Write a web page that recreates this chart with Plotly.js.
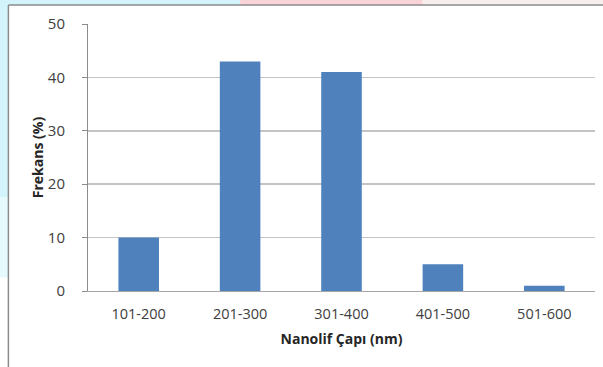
<!DOCTYPE html>
<html>
<head>
<meta charset="utf-8">
<script src="https://cdn.plot.ly/plotly-3.0.1.min.js"></script>
<style>html,body{margin:0;padding:0;background:#fff;}#chart{width:603px;height:367px;}</style>
</head>
<body>
<div id="chart"></div>
<script>
const categories = ["101-200", "201-300", "301-400", "401-500", "501-600"];
const frequencies = [10, 43, 41, 5, 1];
const yTickValues = [0, 10, 20, 30, 40, 50];

const font = "Open Sans, Liberation Sans, sans-serif";
const shapes = [
  {type:"rect", xref:"paper", yref:"paper", x0:-0.18, x1:-0.158, y0:0.35, y1:1.1, fillcolor:"#d3f4fb", line:{width:0}, layer:"below"},
  {type:"rect", xref:"paper", yref:"paper", x0:-0.18, x1:-0.158, y0:0.05, y1:0.35, fillcolor:"#e6f9fd", line:{width:0}, layer:"below"},
  {type:"rect", xref:"paper", yref:"paper", x0:-0.18, x1:-0.158, y0:-0.3, y1:0.05, fillcolor:"#ffffff", line:{width:0}, layer:"below"},
  {type:"rect", xref:"paper", yref:"paper", x0:-0.18, x1:0.3, y0:1.07, y1:1.1, fillcolor:"#d3f4fb", line:{width:0}, layer:"below"},
  {type:"rect", xref:"paper", yref:"paper", x0:0.3, x1:0.66, y0:1.07, y1:1.1, fillcolor:"#fad3d8", line:{width:0}, layer:"below"},
  {type:"rect", xref:"paper", yref:"paper", x0:0.66, x1:1.02, y0:1.07, y1:1.1, fillcolor:"#f7eeee", line:{width:0}, layer:"below"},
  {type:"line", xref:"paper", yref:"paper", x0:-0.157, x1:1.02, y0:1.071, y1:1.071, line:{color:"#8c8c8c", width:1.5}},
  {type:"line", xref:"paper", yref:"paper", x0:-0.157, x1:-0.157, y0:1.071, y1:-0.3, line:{color:"#8c8c8c", width:1.5}}
];

Plotly.newPlot("chart", [{
  type: "bar",
  x: categories,
  y: frequencies,
  marker: {color: "#4f81bd"},
  hoverinfo: "skip"
}], {
  width: 603, height: 367,
  margin: {l: 88, r: 8, t: 24, b: 76},
  paper_bgcolor: "#ffffff",
  plot_bgcolor: "#ffffff",
  bargap: 0.6,
  showlegend: false,
  font: {family: font, color: "#404040", size: 14},
  xaxis: {
    type: "category",
    showline: true, linecolor: "#a6a6a6", linewidth: 1,
    ticks: "", showgrid: false,
    tickfont: {size: 14.5, color: "#404040"},
    ticklabelstandoff: 10,
    title: {text: "<b>Nanolif Çapı (nm)</b>", font: {size: 14, color: "#262626"}, standoff: 11}
  },
  yaxis: {
    range: [0, 50],
    tickvals: yTickValues,
    showline: true, linecolor: "#8c8c8c", linewidth: 1,
    ticks: "outside", ticklen: 5, tickcolor: "#8c8c8c",
    showgrid: true, gridcolor: "#c4c4c4", gridwidth: 1.5,
    zeroline: false,
    tickfont: {size: 15, color: "#404040"},
    ticklabelstandoff: 14,
    title: {text: "<b>Frekans (%)</b>", font: {size: 14, color: "#262626"}, standoff: 0}
  },
  shapes: shapes
}, {staticPlot: true, displayModeBar: false});
</script>
</body>
</html>
